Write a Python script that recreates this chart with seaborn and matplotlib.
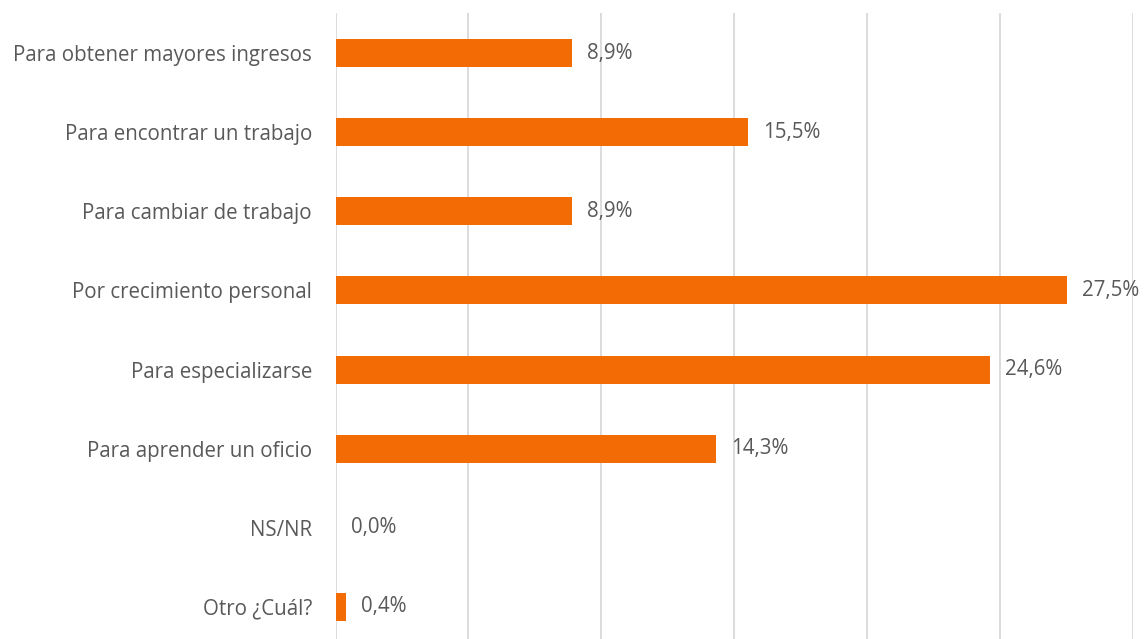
import matplotlib
matplotlib.use("Agg")
import matplotlib.pyplot as plt
import seaborn as sns
import pandas as pd

categories = [
    "Para obtener mayores ingresos",
    "Para encontrar un trabajo",
    "Para cambiar de trabajo",
    "Por crecimiento personal",
    "Para especializarse",
    "Para aprender un oficio",
    "NS/NR",
    "Otro ¿Cuál?",
]
values = [8.9, 15.5, 8.9, 27.5, 24.6, 14.3, 0.0, 0.4]
labels = ["8,9%", "15,5%", "8,9%", "27,5%", "24,6%", "14,3%", "0,0%", "0,4%"]

sns.set_theme(style="white")
plt.rcParams["font.family"] = ["Open Sans", "DejaVu Sans"]

text_color = "#595959"
bar_color = "#F26B05"
fs = 14.8

df = pd.DataFrame({"cat": categories, "val": values})

fig = plt.figure(figsize=(11.44, 6.39), dpi=100)
ax = fig.add_axes([0.2933, -0.0117, 0.6973, 0.9906])
sns.barplot(data=df, y="cat", x="val", orient="h", color=bar_color,
            width=0.354, saturation=1, linewidth=0, ax=ax)

ax.set_xlim(0, 30)
ax.set_xticks([0, 5, 10, 15, 20, 25, 30])
ax.xaxis.grid(True, color="#D9D9D9", linewidth=1.3)
ax.set_axisbelow(True)
ax.tick_params(axis="x", bottom=False, labelbottom=False)
ax.tick_params(axis="y", left=False, length=0, pad=17, labelsize=fs, labelcolor=text_color)
for s in ax.spines.values():
    s.set_visible(False)
ax.set_xlabel("")
ax.set_ylabel("")

for i, (v, lab) in enumerate(zip(values, labels)):
    ax.annotate(lab, xy=(v, i), xytext=(15, 0), textcoords="offset pixels",
                va="center", ha="left", fontsize=fs, color=text_color,
                annotation_clip=False)

fig.savefig("out.png", dpi=100)
